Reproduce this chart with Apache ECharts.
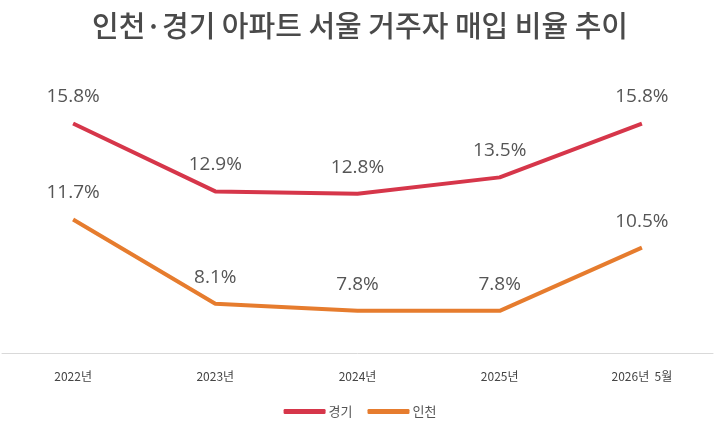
<!DOCTYPE html>
<html><head><meta charset="utf-8">
<script src="https://cdn.jsdelivr.net/npm/echarts@6/dist/echarts.min.js"></script>
<style>html,body{margin:0;padding:0;background:#fff}#c{width:720px;height:432px}</style>
</head><body><div id="c"></div>
<script>
const categories = ['2022년', '2023년', '2024년', '2025년', '2026년  5월'];
const gyeonggi = [15.8, 12.9, 12.8, 13.5, 15.8];
const incheon = [11.7, 8.1, 7.8, 7.8, 10.5];
const seriesNames = ['경기', '인천'];
const chart = echarts.init(document.getElementById('c'));
const labelStyle = {show: true, position: 'top', distance: 17, formatter: p => p.value.toFixed(1) + '%', color: '#555', fontSize: 19, fontFamily: 'Open Sans'};
chart.setOption({
  animation: false,
  title: {text: '인천·경기 아파트 서울 거주자 매입 비율 추이', left: 'center', top: 6,
    textStyle: {fontFamily: 'Noto Sans CJK KR', fontSize: 29, fontWeight: 500, color: '#4a4a4a'}},
  grid: {left: 2, right: 7, top: 72, bottom: 79},
  legend: {bottom: 9, left: 'center', itemWidth: 42, itemHeight: 5, itemGap: 15,
    textStyle: {fontFamily: 'Noto Sans CJK KR', fontSize: 13, color: '#555', padding: [0, 0, 0, -2]}, icon: 'roundRect'},
  xAxis: {type: 'category', data: categories, boundaryGap: true,
    axisLine: {lineStyle: {color: '#d9d9d9', width: 1}}, axisTick: {show: false},
    axisLabel: {margin: 17, color: '#444', fontSize: 12, fontFamily: 'Noto Sans CJK KR'}},
  yAxis: {type: 'value', min: 6, max: 18, show: false, splitLine: {show: false}},
  series: [
    {name: seriesNames[0], type: 'line', data: gyeonggi, symbol: 'circle', symbolSize: 0.01, lineStyle: {width: 4, color: '#d6364a'}, itemStyle: {color: '#d6364a'}, label: labelStyle},
    {name: seriesNames[1], type: 'line', data: incheon, symbol: 'circle', symbolSize: 0.01, lineStyle: {width: 4, color: '#e67c2e'}, itemStyle: {color: '#e67c2e'}, label: labelStyle}
  ]
});
</script></body></html>
